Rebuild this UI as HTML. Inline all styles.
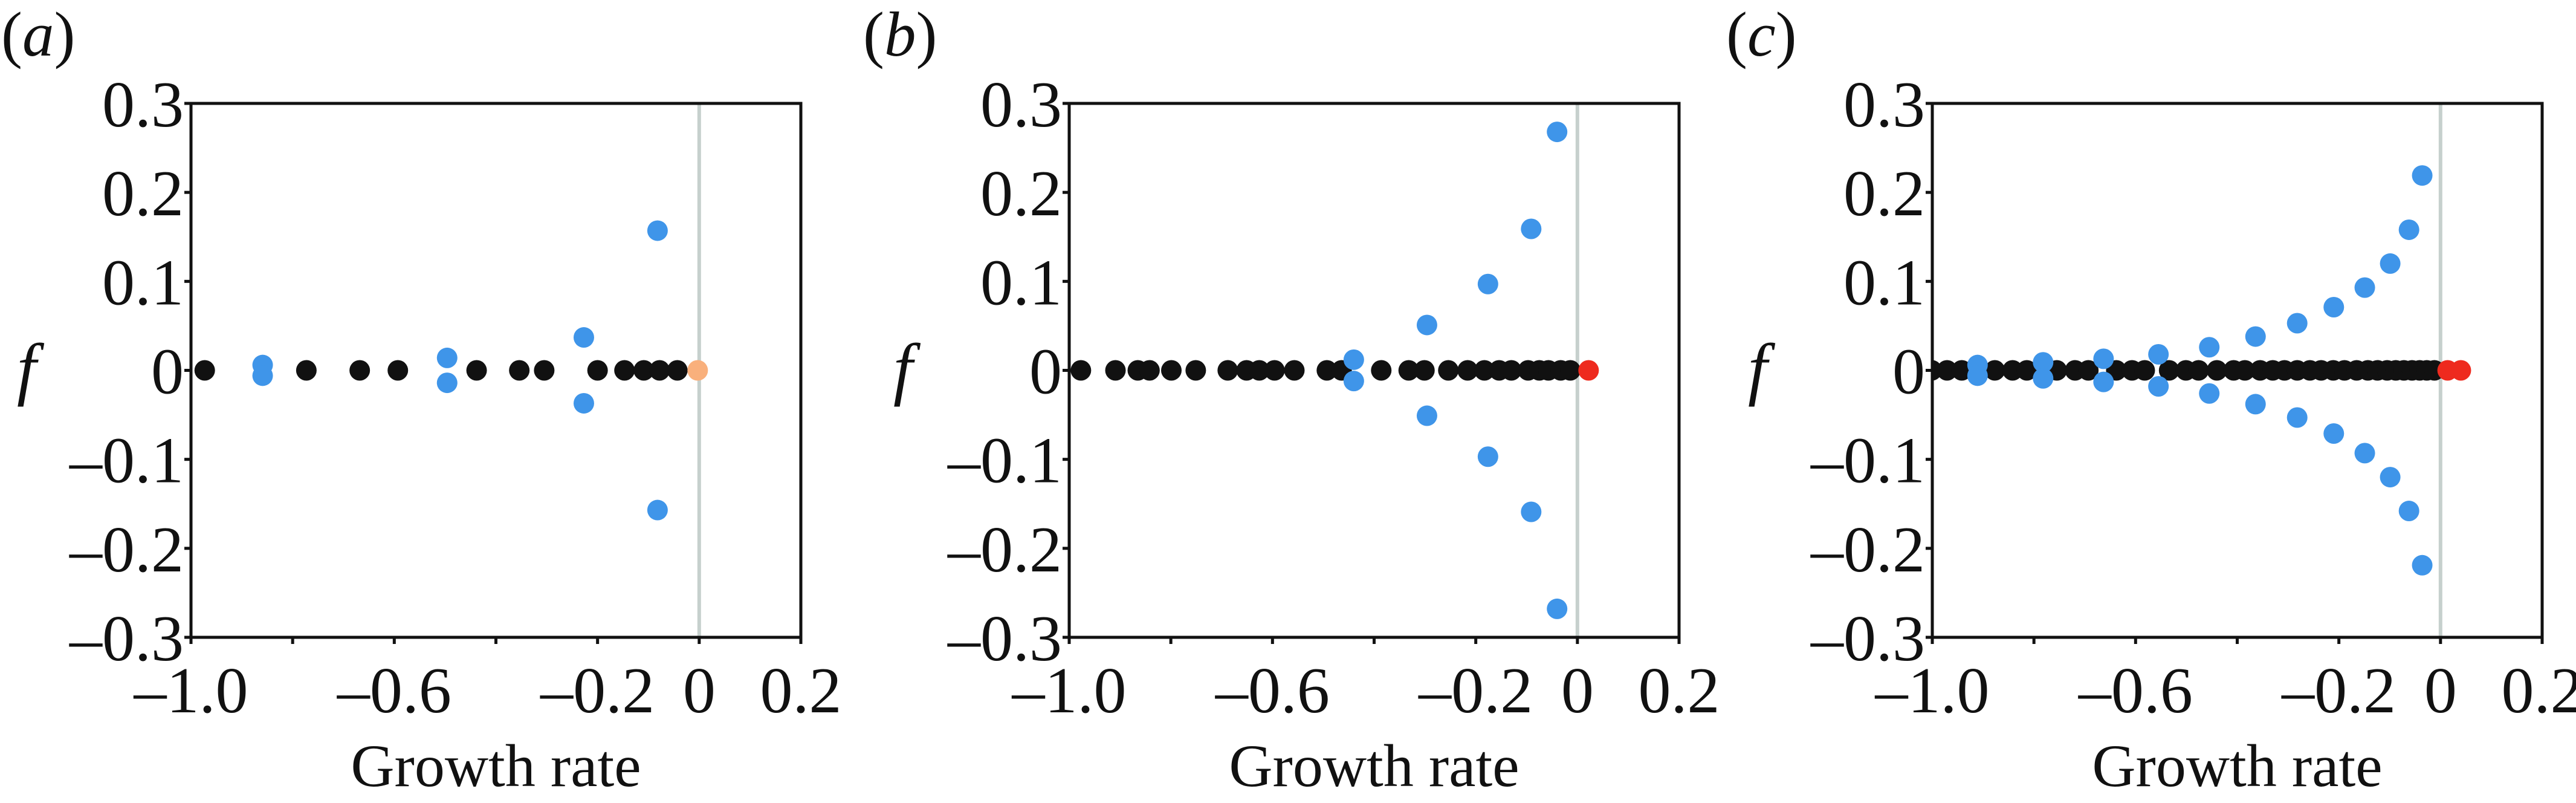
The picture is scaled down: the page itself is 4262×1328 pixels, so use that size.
<!DOCTYPE html>
<html><head><meta charset="utf-8"><style>
html,body{margin:0;padding:0;background:#fff;}
svg{display:block;}
text{font-family:"Liberation Serif",serif;fill:#111;}
</style></head><body>
<svg id="fig" width="4262" height="1328" viewBox="0 0 4262 1328" xmlns="http://www.w3.org/2000/svg"></svg>
<script>
// ---- data ----
const xTicks = [-1.0, -0.8, -0.6, -0.4, -0.2, 0, 0.2];
const xTickLabels = ["\u20131.0", "", "\u20130.6", "", "\u20130.2", "0", "0.2"];
const yTicks = [0.3, 0.2, 0.1, 0, -0.1, -0.2, -0.3];
const yTickLabels = ["0.3", "0.2", "0.1", "0", "\u20130.1", "\u20130.2", "\u20130.3"];
const panelLabels = ["(a)", "(b)", "(c)"];

const aBlack = [-0.973, -0.773, -0.668, -0.593, -0.438, -0.354, -0.305, -0.200, -0.147, -0.109, -0.078, -0.043];
const aBlueX = [-0.859, -0.496, -0.227, -0.082];
const aBlueF = [0.006, 0.014, 0.037, 0.157];
const aUnstable = [-0.003];

const bBlack = [-0.977, -0.909, -0.865, -0.842, -0.799, -0.751, -0.688, -0.651, -0.626, -0.596, -0.557, -0.493, -0.464, -0.386, -0.332, -0.301, -0.254, -0.216, -0.183, -0.154, -0.130, -0.097, -0.075, -0.057, -0.033, -0.014];
const bBlueX = [-0.440, -0.296, -0.176, -0.091, -0.040];
const bBlueF = [0.012, 0.051, 0.097, 0.159, 0.268];
const bUnstable = [0.022];

const cBlack = [-1.001, -0.971, -0.942, -0.877, -0.842, -0.814, -0.755, -0.719, -0.693, -0.638, -0.607, -0.582, -0.534, -0.501, -0.476, -0.440, -0.407, -0.385, -0.355, -0.330, -0.307, -0.282, -0.257, -0.235, -0.211, -0.189, -0.165, -0.143, -0.124, -0.105, -0.088, -0.072, -0.056, -0.041, -0.027, -0.012];
const cBlueX = [-0.911, -0.782, -0.663, -0.555, -0.455, -0.364, -0.282, -0.210, -0.149, -0.099, -0.062, -0.036, -0.019];
const cBlueF = [0.006, 0.009, 0.013, 0.018, 0.026, 0.038, 0.053, 0.071, 0.093, 0.120, 0.158, 0.219, 0.325];
const cUnstable = [0.014, 0.040];

const panels = [
  {left:316, black:aBlack, bx:aBlueX, bf:aBlueF, un:aUnstable, unColor:"#f9b07c", labelX:2, fX:28},
  {left:1769, black:bBlack, bx:bBlueX, bf:bBlueF, un:bUnstable, unColor:"#ee2a1e", labelX:1428, fX:1478},
  {left:3197, black:cBlack, bx:cBlueX, bf:cBlueF, un:cUnstable, unColor:"#ee2a1e", labelX:2856, fX:2892}
];

const NS = "http://www.w3.org/2000/svg";
const svg = document.getElementById("fig");
const TOP = 171, BOT = 1054, W = 1009, R = 17;
function mk(tag, attrs, parent){ const e=document.createElementNS(NS,tag); for(const k in attrs) e.setAttribute(k,attrs[k]); parent.appendChild(e); return e; }

panels.forEach((p, i) => {
  const X = v => p.left + (v + 1.0) / 1.2 * W;
  const Y = v => TOP + (0.3 - v) / 0.6 * (BOT - TOP);
  const g = mk("g", {}, svg);
  
  

  const clipId = "clip" + i;
  const cp = mk("clipPath", {id: clipId}, g);
  mk("rect", {x: p.left, y: TOP, width: W, height: BOT - TOP}, cp);

  const zl = mk("line", {x1: X(0), x2: X(0), y1: TOP, y2: BOT, stroke: "#c6d0cd", "stroke-width": 6}, g);
  
  

  const pts = mk("g", {"clip-path": "url(#" + clipId + ")"}, g);
  
  
  p.black.forEach(v => {
    const c = mk("circle", {cx: X(v), cy: Y(0), r: R, fill: "#111"}, pts);
    
    
  });
  p.bx.forEach((v, k) => {
    [1, -1].forEach(s => {
      const c = mk("circle", {cx: X(v), cy: Y(s * p.bf[k]), r: R, fill: "#3f95e9"}, pts);
      
      
    });
  });
  p.un.forEach(v => {
    const c = mk("circle", {cx: X(v), cy: Y(0), r: R, fill: p.unColor}, pts);
    
    
  });

  const fr = mk("rect", {x: p.left, y: TOP, width: W, height: BOT - TOP, fill: "none", stroke: "#111", "stroke-width": 5}, g);
  
  

  xTicks.forEach((v, k) => {
    const t = mk("line", {x1: X(v), x2: X(v), y1: BOT, y2: BOT + 11, stroke: "#111", "stroke-width": 5}, g);
    
    
    if (xTickLabels[k]) {
      const tx = mk("text", {x: X(v), y: 1178, "font-size": 108, "text-anchor": "middle"}, g);
      tx.textContent = xTickLabels[k];
      
      
    }
  });
  yTicks.forEach((v, k) => {
    const t = mk("line", {x1: p.left - 11, x2: p.left, y1: Y(v), y2: Y(v), stroke: "#111", "stroke-width": 5}, g);
    
    
    const tx = mk("text", {x: p.left - 12, y: Y(v) + 38, "font-size": 108, "text-anchor": "end"}, g);
    tx.textContent = yTickLabels[k];
    
    
  });

  const xt = mk("text", {x: p.left + W / 2, y: 1300, "font-size": 100, "text-anchor": "middle"}, g);
  xt.textContent = "Growth rate";
  
  

  const yt = mk("text", {x: p.fX, y: 648, "font-size": 115, "font-style": "italic"}, g);
  yt.textContent = "f";
  
  

  const pl = mk("text", {x: p.labelX, y: 92, "font-size": 105}, g);
  pl.innerHTML = '(<tspan font-style="italic">' + "abc"[i] + '</tspan>)';
  
  
});
</script>
</body></html>
